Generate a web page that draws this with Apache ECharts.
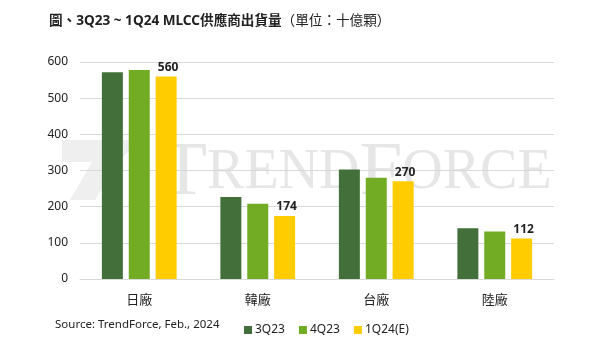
<!DOCTYPE html>
<html><head><meta charset="utf-8">
<script src="https://cdn.jsdelivr.net/npm/echarts@6/dist/echarts.min.js"></script>
<style>html,body{margin:0;padding:0;background:#fff}#c{width:600px;height:348px}</style>
</head><body><div id="c"></div>
<script>
const categories = ['日廠', '韓廠', '台廠', '陸廠'];
const seriesNames = ['3Q23', '4Q23', '1Q24(E)'];
const s3Q23 = [572, 227, 303, 140];
const s4Q23 = [578, 208, 280, 131];
const s1Q24 = [560, 174, 270, 112];
const yTicks = [0, 100, 200, 300, 400, 500, 600];
const colors = ['#43703A', '#72AC25', '#FFCC00'];
const FONT = '"Noto Sans", "Noto Sans CJK TC", sans-serif';

const chart = echarts.init(document.getElementById('c'));
const values = [s3Q23, s4Q23, s1Q24];
chart.setOption({
  animation: false,
  textStyle: { fontFamily: FONT },
  title: {
    text: '{b|圖、3Q23 ~ 1Q24 MLCC供應商出貨量}{n|（單位：十億顆）}',
    left: 44, top: 9,
    textStyle: {
      rich: {
        b: { fontSize: 13.6, fontWeight: 'bold', color: '#222', fontFamily: FONT },
        n: { fontSize: 13.6, fontWeight: 'normal', color: '#222', fontFamily: FONT }
      }
    }
  },
  graphic: [
    { type: 'polygon', z: 0, shape: { points: [[62,140],[140,140],[118,162],[95,200],[70,200],[92,162],[62,162]] }, style: { fill: '#efefef' } },
    { type: 'text', z: 0, left: 160, top: 135, style: {
      text: '{a|T}{b|REND}{a|F}{b|ORCE}',
      rich: {
        a: { fontSize: 77, fontFamily: '"Liberation Serif", serif', fill: '#e6e6e6' },
        b: { fontSize: 56, fontFamily: '"Liberation Serif", serif', fill: '#e6e6e6' }
      }
    } },
    { type: 'text', left: 55, top: 319, style: { text: 'Source: TrendForce, Feb., 2024', fontSize: 11.5, fill: '#222', fontFamily: FONT } }
  ],
  legend: {
    data: seriesNames, left: 239, top: 319, itemWidth: 8, itemHeight: 8, itemGap: 14,
    icon: 'rect', textStyle: { fontSize: 12, color: '#222', padding: [0,0,0,-2] }
  },
  grid: { left: 80, right: 46, top: 62, bottom: 69 },
  xAxis: {
    type: 'category', data: categories,
    axisLine: { lineStyle: { color: '#d9d9d9' } },
    axisTick: { show: false },
    axisLabel: { fontSize: 13, color: '#222', margin: 15 }
  },
  yAxis: {
    type: 'value', min: yTicks[0], max: yTicks[yTicks.length-1], interval: 100,
    axisLine: { show: false }, axisTick: { show: false },
    splitLine: { lineStyle: { color: '#d9d9d9' } },
    axisLabel: { fontSize: 12, color: '#222', margin: 12 }
  },
  series: seriesNames.map((n, i) => ({
    name: n, type: 'bar', data: values[i], barWidth: 21, barGap: '28%',
    itemStyle: { color: colors[i] },
    label: i === 2 ? { show: true, position: 'top', fontWeight: 'bold', fontSize: 12, color: '#222', distance: 3, offset: [2, 0] } : { show: false }
  }))
});
</script></body></html>
